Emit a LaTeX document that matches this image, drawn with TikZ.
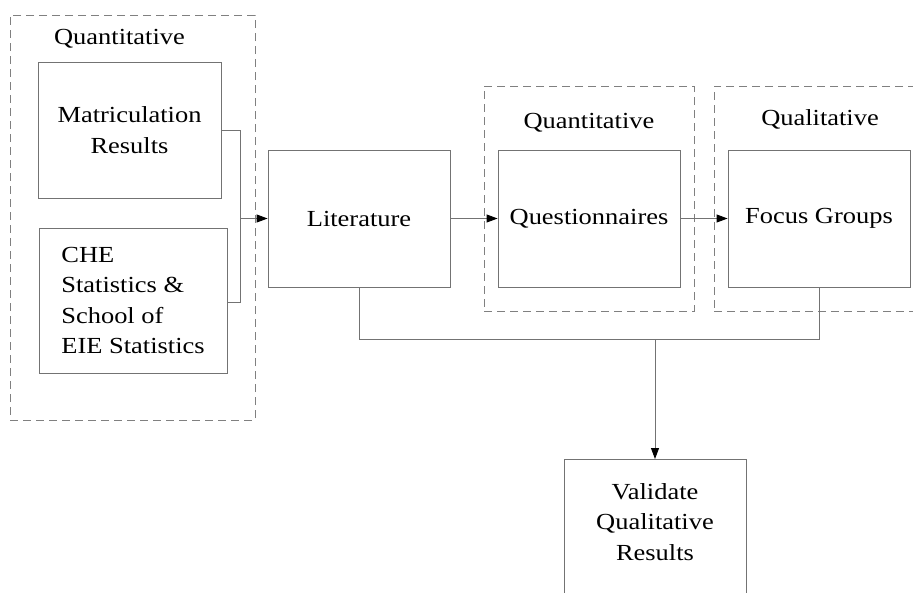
\documentclass[tikz,border=0pt]{standalone}
\usepackage{fontspec}
\setmainfont[FakeStretch=1.15]{Liberation Serif}
\usetikzlibrary{arrows.meta}
\begin{document}
\begin{tikzpicture}[x=1pt,y=-1pt,
  font=\fontsize{23}{30.5}\selectfont,
  box/.style={draw=black!55,line width=0.9pt,rectangle,inner sep=2pt,align=center},
  dashbox/.style={draw=black!50,line width=0.9pt,dash pattern=on 8pt off 5pt,rectangle,inner sep=0pt},
  conn/.style={draw=black!55,line width=0.9pt},
  arr/.style={conn,-{Triangle[length=11pt,width=8pt,color=black]}}]
\useasboundingbox (0,0) rectangle (913,592);
% dashed groups
\node[dashbox,minimum width=245,minimum height=405] (g1) at (132.5,217.5) {};
\node[dashbox,minimum width=210,minimum height=225] (g2) at (589,198.5) {};
\node[dashbox,minimum width=216,minimum height=225] (g3) at (822,198.5) {};
\node (l1) at (119.5,39) {Quantitative};
\node (l2) at (589,123) {Quantitative};
\node (l3) at (820,119) {Qualitative};
% boxes
\node[box,minimum width=183,minimum height=136] (mat) at (129.5,130) {Matriculation\\Results};
\node[box,minimum width=188,minimum height=145,align=left] (che) at (133,300.5) {CHE\\Statistics \&\\School of\\EIE Statistics};
\node[box,minimum width=182,minimum height=137] (lit) at (359,218.5) {Literature};
\node[box,minimum width=182,minimum height=137] (que) at (589,218.5) {Questionnaires};
\node[box,minimum width=182,minimum height=137] (fg) at (819,218.5) {Focus Groups};
\node[box,anchor=north,minimum width=182,minimum height=160] (val) at (655,459) {};
\node[align=center] (valtext) at (655,522) {Validate\\Qualitative\\Results};
% bracket
\coordinate (b1) at (240,130);
\coordinate (b2) at (240,302);
\coordinate (bm) at (240,218.5);
\draw[conn] (mat.east |- b1) -- (b1) -- (b2) -- (che.east |- b2);
\draw[arr] (bm) -- (lit.west);
\draw[arr] (lit.east) -- (que.west);
\draw[arr] (que.east) -- (fg.west);
% bottom
\coordinate (j) at (655,339);
\draw[conn] (lit.south) -- (lit.south |- j) -| (fg.south);
\draw[arr] (j) -- (val.north);
\end{tikzpicture}
\end{document}
